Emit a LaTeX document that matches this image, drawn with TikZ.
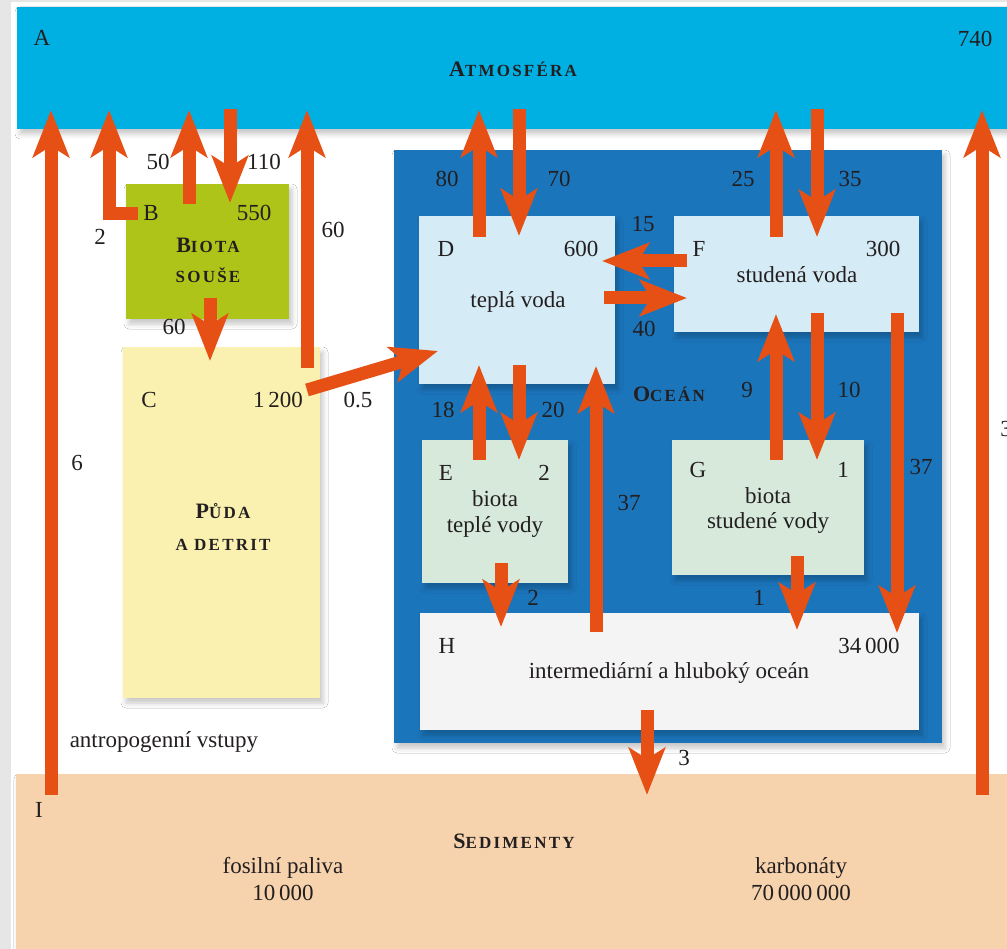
\documentclass[tikz,border=0pt]{standalone}
\usepackage{fontspec}
\setmainfont{Liberation Serif}
\newfontfamily\capsfont[LetterSpace=13]{Liberation Serif}
\usetikzlibrary{arrows.meta,shadows.blur}

\definecolor{pagegray}{HTML}{E6E6E6}
\definecolor{atmcol}{HTML}{00B0E3}
\definecolor{oceancol}{HTML}{1B75BB}
\definecolor{landbio}{HTML}{AFC419}
\definecolor{soilcol}{HTML}{FAF1B1}
\definecolor{watercol}{HTML}{D5EBF5}
\definecolor{biocol}{HTML}{D6E9DA}
\definecolor{deepcol}{HTML}{F4F4F4}
\definecolor{sedcol}{HTML}{F6D3AD}
\definecolor{flowcol}{HTML}{E65015}
\definecolor{ink}{HTML}{231F20}

% heading in small capitals: large initial, smaller capitals after it
\newcommand\hdr[2]{{\capsfont\bfseries{\fontsize{22}{26}\selectfont#1}{\fontsize{17}{20}\selectfont#2}}}
\newcommand\hdrsmall[1]{{\capsfont\bfseries\fontsize{17}{20}\selectfont#1}}

\begin{document}
\begin{tikzpicture}[x=1pt,y=-1pt,
  box/.style={draw=none, inner sep=0pt, outer sep=0pt, anchor=north west},
  soft/.style={blur shadow={shadow xshift=3pt, shadow yshift=-5pt, shadow blur radius=5pt, shadow opacity=22}},
  flow/.style={draw=flowcol, line width=13pt, line join=miter,
    -{Stealth[length=47pt,width=36pt,inset=11pt]}},
  lbl/.style={anchor=base, inner sep=0pt, text=ink, font=\fontsize{23}{27}\selectfont},
  ctr/.style={lbl, align=center}
]
\useasboundingbox (0,0) rectangle (1007,949);

% page background
\fill[pagegray] (0,0) rectangle (1007,949);
\fill[white] (11,2) rectangle (1007,949);

% reservoirs
\node[box, soft, fill=sedcol, minimum width=1000pt, minimum height=180pt] (sed) at (16,774) {};
\node[box, soft, fill=oceancol, minimum width=548pt, minimum height=593pt] (ocean) at (394,150) {};
\node[box, soft, fill=atmcol, minimum width=1000pt, minimum height=122pt] (atm) at (17,7) {};
\node[box, soft, fill=landbio, minimum width=163pt, minimum height=135pt] (bio) at (126,184) {};
\node[box, soft, fill=soilcol, minimum width=197pt, minimum height=351pt] (soil) at (123,347) {};
\node[box, soft, fill=watercol, minimum width=196pt, minimum height=168pt] (warm) at (419,216) {};
\node[box, soft, fill=watercol, minimum width=245pt, minimum height=116pt] (cold) at (674,216) {};
\node[box, soft, fill=biocol, minimum width=146pt, minimum height=143pt] (wbio) at (422,440) {};
\node[box, soft, fill=biocol, minimum width=192pt, minimum height=135pt] (cbio) at (672,440) {};
\node[box, soft, fill=deepcol, minimum width=499pt, minimum height=117pt] (deep) at (420,613) {};

% flow end points
\coordinate (s6) at (51,795);    \coordinate (t6) at (51,110);
\coordinate (s2) at (138,214);   \coordinate (t2) at (109,110);
\coordinate (s50) at (189,204);  \coordinate (t50) at (189,110);
\coordinate (s110) at (230,109); \coordinate (t110) at (230,203);
\coordinate (s60u) at (307,368); \coordinate (t60u) at (307,110);
\coordinate (s60d) at (210,298); \coordinate (t60d) at (210,361);
\coordinate (s05) at (307,390);  \coordinate (t05) at (438,351);
\coordinate (s80) at (479,237);  \coordinate (t80) at (479,110);
\coordinate (s70) at (519,109);  \coordinate (t70) at (519,236);
\coordinate (s15) at (687,261);  \coordinate (t15) at (602,261);
\coordinate (s40) at (604,298);  \coordinate (t40) at (687,298);
\coordinate (s18) at (479,460);  \coordinate (t18) at (479,365);
\coordinate (s20) at (519,365);  \coordinate (t20) at (519,460);
\coordinate (s37u) at (596,632); \coordinate (t37u) at (596,366);
\coordinate (s25) at (776,237);  \coordinate (t25) at (776,110);
\coordinate (s35) at (817,109);  \coordinate (t35) at (817,237);
\coordinate (s9) at (776,460);   \coordinate (t9) at (776,314);
\coordinate (s10) at (817,313);  \coordinate (t10) at (817,460);
\coordinate (s37d) at (897,313); \coordinate (t37d) at (897,633);
\coordinate (s3r) at (982,795);  \coordinate (t3r) at (982,110);
\coordinate (se2) at (501,563);  \coordinate (te2) at (501,627);
\coordinate (sg1) at (797,556);  \coordinate (tg1) at (797,630);
\coordinate (sh3) at (647,710);  \coordinate (th3) at (647,795);

% carbon flows
\draw[flow] (s6) -- (t6);
\draw[flow] (s2) -| (t2);
\draw[flow] (s50) -- (t50);
\draw[flow] (s110) -- (t110);
\draw[flow] (s60u) -- (t60u);
\draw[flow] (s60d) -- (t60d);
\draw[flow] (s05) -- (t05);
\draw[flow] (s80) -- (t80);
\draw[flow] (s70) -- (t70);
\draw[flow] (s15) -- (t15);
\draw[flow] (s40) -- (t40);
\draw[flow] (s18) -- (t18);
\draw[flow] (s20) -- (t20);
\draw[flow] (s37u) -- (t37u);
\draw[flow] (s25) -- (t25);
\draw[flow] (s35) -- (t35);
\draw[flow] (s9) -- (t9);
\draw[flow] (s10) -- (t10);
\draw[flow] (s37d) -- (t37d);
\draw[flow] (s3r) -- (t3r);
\draw[flow] (se2) -- (te2);
\draw[flow] (sg1) -- (tg1);
\draw[flow] (sh3) -- (th3);

% atmosphere
\node[lbl] (la) at (42,46) {A};
\node[lbl] (la740) at (975,47) {740};
\node[lbl] (latm) at (513,77) {\hdr{A}{TMOSFÉRA}};

% land
\node[lbl] (l50) at (158,170) {50};
\node[lbl] (l110) at (264,170) {110};
\node[lbl] (lb) at (151,221) {B};
\node[lbl] (lb550) at (254,221) {550};
\node[lbl] (l2) at (100,245) {2};
\node[lbl] (l60r) at (333,238) {60};
\node[lbl] (lbio1) at (208,253) {\hdr{B}{IOTA}};
\node[lbl] (lbio2) at (208,283) {\hdrsmall{SOUŠE}};
\node[lbl] (l60b) at (174,335) {60};
\node[lbl] (lc) at (149,408) {C};
\node[lbl] (lc1200) at (278,408) {1\,200};
\node[lbl] (l05) at (358,408) {0.5};
\node[lbl] (l6) at (77,471) {6};
\node[lbl] (lsoil1) at (223,518) {\hdr{P}{ŮDA}};
\node[lbl] (lsoil2) at (223,550) {\hdrsmall{A DETRIT}};
\node[lbl] (lanthro) at (164,747) {antropogenní vstupy};
\node[lbl] (li) at (39,817) {I};

% ocean
\node[lbl] (l80) at (447,187) {80};
\node[lbl] (l70) at (559,187) {70};
\node[lbl] (l25) at (743,187) {25};
\node[lbl] (l35) at (850,187) {35};
\node[lbl] (l15) at (643,232) {15};
\node[lbl] (l40) at (644,337) {40};
\node[lbl] (ld) at (446,257) {D};
\node[lbl] (ld600) at (581,257) {600};
\node[lbl] (lwarm) at (518,308) {teplá voda};
\node[lbl] (lf) at (699,257) {F};
\node[lbl] (lf300) at (883,257) {300};
\node[lbl] (lcold) at (797,283) {studená voda};
\node[lbl] (locean) at (669,402) {\hdr{O}{CEÁN}};
\node[lbl] (l18) at (443,418) {18};
\node[lbl] (l20) at (553,418) {20};
\node[lbl] (l9) at (747,398) {9};
\node[lbl] (l10) at (849,398) {10};
\node[lbl] (le) at (446,480) {E};
\node[lbl] (le2) at (544,480) {2};
\node[lbl] (lwb1) at (495,506) {biota};
\node[lbl] (lwb2) at (495,532) {teplé vody};
\node[lbl] (lg) at (698,477) {G};
\node[lbl] (lg1) at (843,477) {1};
\node[lbl] (lcb1) at (768,503) {biota};
\node[lbl] (lcb2) at (768,528) {studené vody};
\node[lbl] (l37m) at (629,510) {37};
\node[lbl] (l37r) at (921,475) {37};
\node[lbl] (l2e) at (533,605) {2};
\node[lbl] (l1g) at (759,605) {1};
\node[lbl] (lh) at (447,653) {H};
\node[lbl] (lh34) at (869,653) {34\,000};
\node[lbl] (ldeep) at (669,678) {intermediární a hluboký oceán};
\node[lbl] (l3) at (684,765) {3};
\node[lbl] (l3r) at (1006,437) {3};

% sediments
\node[lbl] (lsed) at (514,848) {\hdr{S}{EDIMENTY}};
\node[lbl] (lfos1) at (283,873) {fosilní paliva};
\node[lbl] (lfos2) at (283,900) {10\,000};
\node[lbl] (lcarb1) at (801,873) {karbonáty};
\node[lbl] (lcarb2) at (801,900) {70\,000\,000};
\end{tikzpicture}
\end{document}
